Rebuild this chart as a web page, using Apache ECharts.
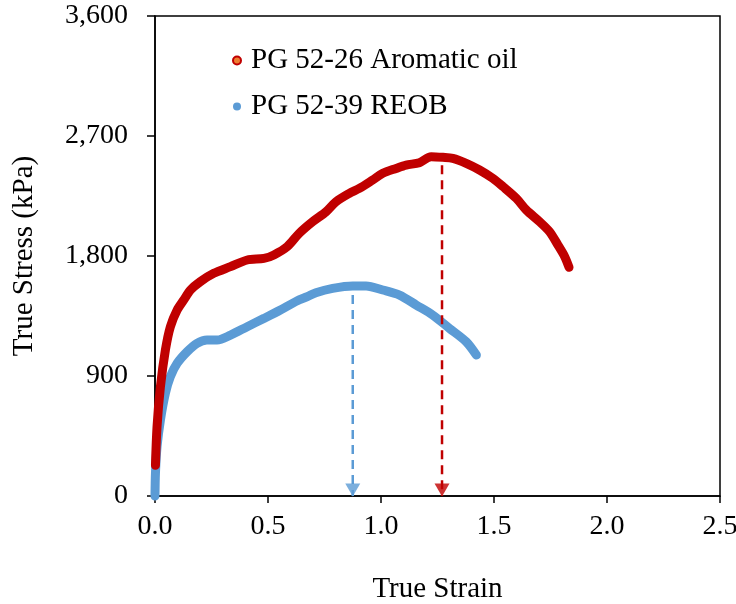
<!DOCTYPE html>
<html>
<head>
<meta charset="utf-8">
<script src="https://cdn.jsdelivr.net/npm/echarts@6/dist/echarts.min.js"></script>
<style>
html,body{margin:0;padding:0;background:#fff;}
#chart{width:736px;height:604px;}
</style>
</head>
<body>
<div id="chart"></div>
<script>
// ---- data ----
const seriesNames = ['PG 52-26 Aromatic oil', 'PG 52-39 REOB'];

const redStrain = [0.002, 0.009, 0.024, 0.046, 0.068, 0.098, 0.127, 0.157, 0.2, 0.26, 0.334, 0.408, 0.482, 0.526, 0.585, 0.638, 0.697, 0.757, 0.801, 0.86, 0.904, 0.963, 1.008, 1.067, 1.111, 1.17, 1.222, 1.274, 1.318, 1.377, 1.436, 1.495, 1.54, 1.599, 1.643, 1.702, 1.746, 1.783, 1.813, 1.832];
const redStress = [230, 520, 820, 1095, 1270, 1395, 1470, 1545, 1607, 1670, 1720, 1770, 1782, 1808, 1870, 1970, 2057, 2132, 2207, 2270, 2307, 2370, 2420, 2457, 2482, 2500, 2545, 2540, 2532, 2495, 2445, 2382, 2320, 2232, 2145, 2057, 1982, 1882, 1795, 1715];

const blueStrain = [0, 0.002, 0.009, 0.024, 0.046, 0.068, 0.098, 0.142, 0.186, 0.23, 0.275, 0.334, 0.408, 0.482, 0.555, 0.63, 0.674, 0.712, 0.786, 0.875, 0.934, 1.008, 1.082, 1.156, 1.229, 1.303, 1.377, 1.422];
const blueStress = [0, 170, 370, 570, 770, 895, 995, 1082, 1145, 1170, 1170, 1207, 1270, 1332, 1395, 1465, 1495, 1525, 1557, 1575, 1575, 1545, 1507, 1432, 1357, 1257, 1157, 1057];

// peak markers (dashed drop lines with arrow heads)
const peakStrain = [1.27, 0.875];
const peakDashTop = [2480, 1507];

const xTicks = [0, 0.5, 1.0, 1.5, 2.0, 2.5];
const yTicks = [0, 900, 1800, 2700, 3600];

// ---- chart ----
const RED = '#C00000', ORANGE = '#ED7D31', BLUE = '#5B9BD5';
const FONT = "'Liberation Serif', 'Times New Roman', serif";

const zip = (a, b) => a.map((v, i) => [v, b[i]]);

const chart = echarts.init(document.getElementById('chart'));
chart.setOption({
  animation: false,
  backgroundColor: '#fff',
  textStyle: { fontFamily: FONT, color: '#000' },
  grid: { left: 155, right: 16, top: 16, bottom: 108, containLabel: false, outerBoundsMode: 'none',
          show: true, borderColor: '#000', borderWidth: 1.5 },
  legend: {
    orient: 'vertical',
    left: 227, top: 41,
    itemGap: 17,
    itemWidth: 8, itemHeight: 8,
    data: [
      { name: seriesNames[0], icon: 'circle', itemStyle: { color: ORANGE, borderColor: RED, borderWidth: 2 } },
      { name: seriesNames[1], icon: 'circle', itemStyle: { color: BLUE } }
    ],
    textStyle: { fontFamily: FONT, fontSize: 29, color: '#000', padding: [0, 0, 0, 5] }
  },
  xAxis: {
    type: 'value', min: xTicks[0], max: xTicks[xTicks.length - 1], interval: 0.5,
    name: 'True Strain', nameLocation: 'middle', nameGap: 79,
    nameTextStyle: { fontFamily: FONT, fontSize: 29, color: '#000' },
    axisLine: { onZero: false, lineStyle: { color: '#000', width: 1.5 } },
    axisTick: { inside: false, length: 7, lineStyle: { color: '#000', width: 1.5 } },
    axisLabel: { fontFamily: FONT, fontSize: 28, color: '#000', margin: 17, formatter: v => v.toFixed(1) },
    splitLine: { show: false }
  },
  yAxis: {
    type: 'value', min: yTicks[0], max: yTicks[yTicks.length - 1], interval: 900,
    name: 'True Stress (kPa)', nameLocation: 'middle', nameGap: 116,
    nameTextStyle: { fontFamily: FONT, fontSize: 29, color: '#000' },
    axisLine: { lineStyle: { color: '#000', width: 1.5 } },
    axisTick: { inside: false, length: 8, lineStyle: { color: '#000', width: 1.5 } },
    axisLabel: { fontFamily: FONT, fontSize: 28, color: '#000', margin: 27, formatter: v => v.toLocaleString('en-US') },
    splitLine: { show: false }
  },
  series: [
    {
      name: seriesNames[1], type: 'line', data: zip(blueStrain, blueStress),
      smooth: 0.3, showSymbol: false, clip: false, z: 3,
      itemStyle: { color: BLUE },
      lineStyle: { color: BLUE, width: 9, cap: 'round', join: 'round' }
    },
    {
      name: seriesNames[0], type: 'line', data: zip(redStrain, redStress),
      smooth: 0.3, showSymbol: false, clip: false, z: 3,
      itemStyle: { color: RED },
      lineStyle: { color: RED, width: 9, cap: 'round', join: 'round' }
    },
    {
      name: 'redDrop', type: 'line', data: [[peakStrain[0], peakDashTop[0]], [peakStrain[0], 0]],
      showSymbol: false, z: 4, silent: true,
      lineStyle: { color: RED, width: 2.5, type: [9, 6] }
    },
    {
      name: 'blueDrop', type: 'line', data: [[peakStrain[1], peakDashTop[1]], [peakStrain[1], 0]],
      showSymbol: false, z: 4, silent: true,
      lineStyle: { color: BLUE, width: 2.5, type: [9, 6] }
    },
    {
      name: 'arrows', type: 'scatter', clip: false, z: 5, silent: true,
      data: [
        { value: [peakStrain[0], 0], itemStyle: { color: RED } },
        { value: [peakStrain[1], 0], itemStyle: { color: BLUE } }
      ],
      symbol: 'triangle', symbolRotate: 180, symbolSize: [15, 13], symbolOffset: [0, -6]
    }
  ]
});
</script>
</body>
</html>
